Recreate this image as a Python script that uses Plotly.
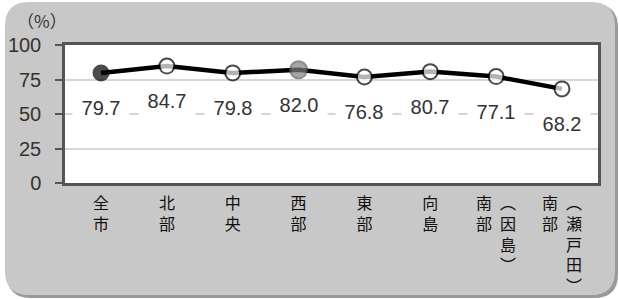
import plotly.graph_objects as go

categories = ["全市", "北部", "中央", "西部", "東部", "向島", "南部(因島)", "南部(瀬戸田)"]
values = [79.7, 84.7, 79.8, 82.0, 76.8, 80.7, 77.1, 68.2]
value_labels = ["79.7", "84.7", "79.8", "82.0", "76.8", "80.7", "77.1", "68.2"]
y_ticks = [0, 25, 50, 75, 100]
y_unit = "（%）"

W, H = 619, 299
ML, MR, MT, MB = 65, 21, 45, 116
PW, PH = W - ML - MR, H - MT - MB


def vertical(name):
    if "(" in name:
        main, sub = name.split("(")
        col2 = ["︵"] + list(sub.rstrip(")")) + ["︶"]
        col1 = list(main)
        n = max(len(col1), len(col2))
        lines = []
        for i in range(n):
            a = col1[i] if i < len(col1) else "\u3000"
            b = col2[i] if i < len(col2) else "\u3000"
            lines.append(a + "\u2002" + b)
        return "<br>".join(lines)
    return "<br>".join(list(name))


def px(x):
    return (x - ML) / PW


def py(y):
    return (MT + PH - y) / PH


def rounded(x0, y0, x1, y1, r):
    pts = [
        f"M {px(x0 + r)},{py(y0)}",
        f"L {px(x1 - r)},{py(y0)}",
        f"Q {px(x1)},{py(y0)} {px(x1)},{py(y0 + r)}",
        f"L {px(x1)},{py(y1 - r)}",
        f"Q {px(x1)},{py(y1)} {px(x1 - r)},{py(y1)}",
        f"L {px(x0 + r)},{py(y1)}",
        f"Q {px(x0)},{py(y1)} {px(x0)},{py(y1 - r)}",
        f"L {px(x0)},{py(y0 + r)}",
        f"Q {px(x0)},{py(y0)} {px(x0 + r)},{py(y0)} Z",
    ]
    return " ".join(pts)


marker_fill = ["#000000", "white", "white", "#7f7f7f", "white", "white", "white", "white"]
marker_edge = ["#000000", "#000000", "#000000", "#5a5a5a", "#000000", "#000000", "#000000", "#000000"]
marker_size = [15, 15, 15, 17, 15, 15, 15, 15]

fig = go.Figure()
fig.add_trace(go.Scatter(
    x=categories, y=values, mode="lines+markers",
    line=dict(color="#000000", width=4.5),
    marker=dict(size=marker_size, color=marker_fill, line=dict(color=marker_edge, width=2)),
    hoverinfo="skip", showlegend=False,
))

for c, v, t in zip(categories, values, value_labels):
    fig.add_annotation(
        x=c, y=v, xref="x", yref="y", text=t, showarrow=False, yshift=-35,
        bgcolor="white", width=54, height=26, borderpad=1,
        font=dict(family="Liberation Sans, Arial", size=20, color="#333333"),
    )

fig.add_annotation(
    x=px(42), y=py(21), xref="paper", yref="paper", text=y_unit, showarrow=False,
    xanchor="center", yanchor="middle",
    font=dict(family="Noto Sans CJK JP", size=17, color="#333333"),
)

shapes = [
    dict(type="path", xref="paper", yref="paper", layer="below",
         path=rounded(7, 4, 618, 298, 24), fillcolor="#9a9a9a", line=dict(width=0)),
    dict(type="path", xref="paper", yref="paper", layer="below",
         path=rounded(5, 2, 615, 295, 24), fillcolor="#c8c8c8", line=dict(width=0)),
    dict(type="rect", xref="paper", yref="paper", layer="below",
         x0=0, y0=0, x1=1, y1=1, fillcolor="white", line=dict(width=0)),
]

fig.update_layout(
    width=W, height=H,
    margin=dict(l=ML, r=MR, t=MT, b=MB, pad=0, autoexpand=False),
    paper_bgcolor="white", plot_bgcolor="white",
    shapes=shapes,
    xaxis=dict(
        type="category", tickmode="array", tickvals=categories,
        ticktext=[vertical(c) for c in categories],
        showline=True, mirror=True, linecolor="#555555", linewidth=2.5,
        ticks="", showgrid=False, ticklabelstandoff=4, automargin=False,
        tickfont=dict(family="Noto Sans CJK JP", size=16, color="#111111"),
        fixedrange=True,
    ),
    yaxis=dict(
        range=[0, 100], tickmode="array", tickvals=y_ticks,
        ticktext=[str(v) for v in y_ticks], automargin=False,
        showline=True, mirror=True, linecolor="#555555", linewidth=2.5,
        ticks="outside", ticklen=7, tickcolor="#555555", tickwidth=1.5,
        showgrid=True, gridcolor="#d6d6d6", gridwidth=2, zeroline=False,
        ticklabelstandoff=10,
        tickfont=dict(family="Liberation Sans, Arial", size=20, color="#333333"),
        fixedrange=True,
    ),
)

fig.write_html(
    "out.html",
    config={"displayModeBar": False},
    post_script="document.body.style.margin='0';document.body.style.overflow='hidden';",
)
